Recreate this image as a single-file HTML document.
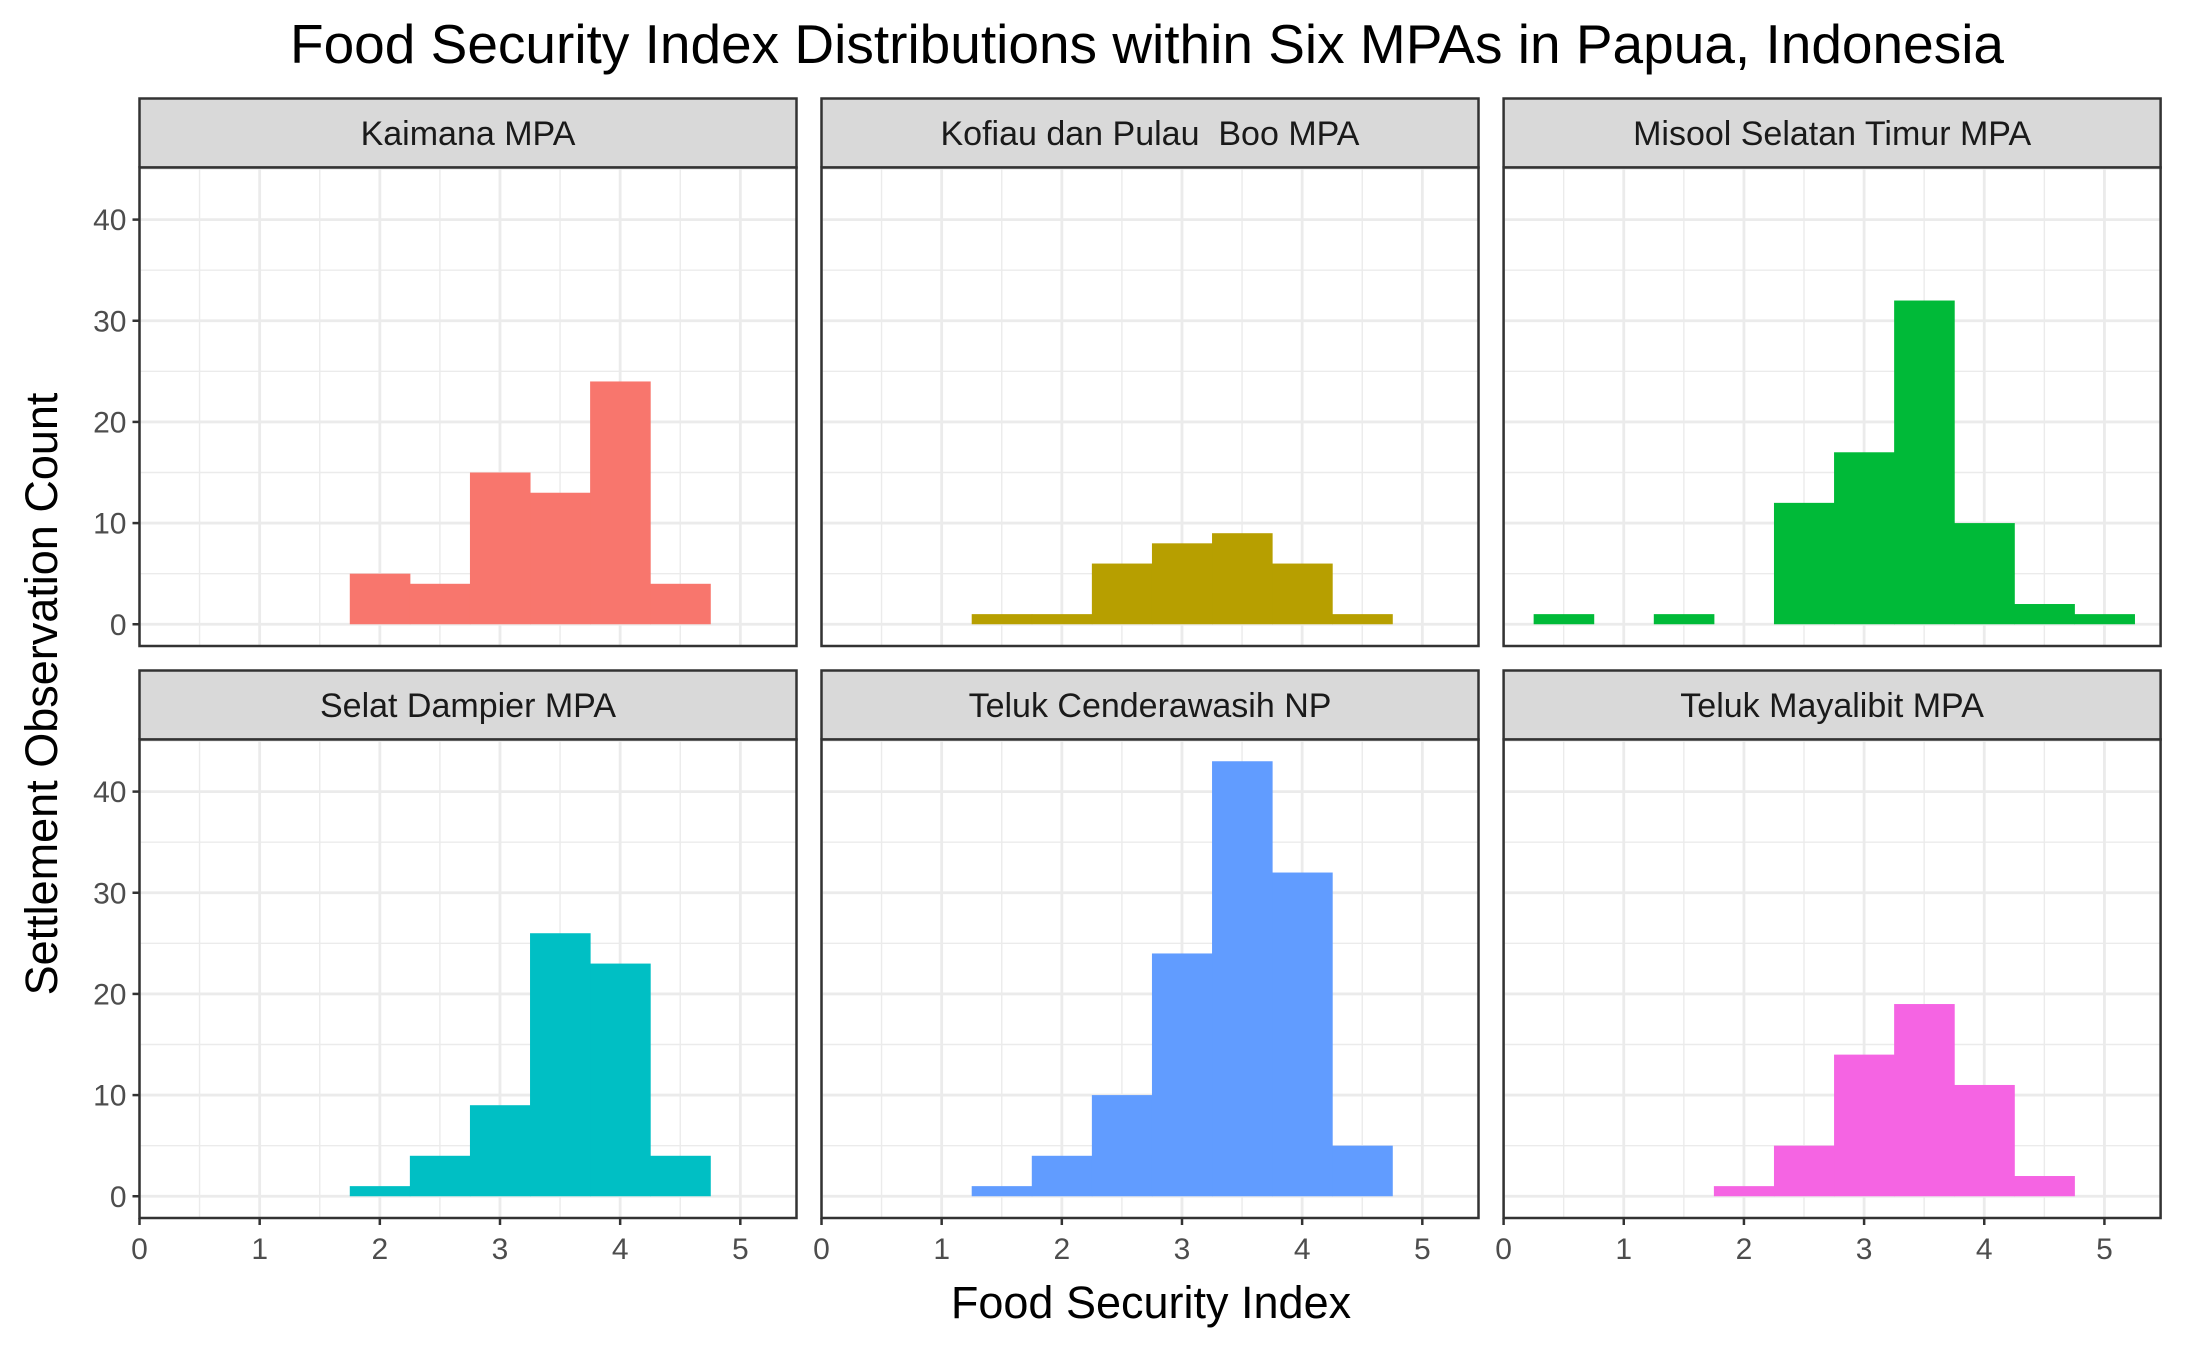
<!DOCTYPE html>
<html><head><meta charset="utf-8"><style>
html,body{margin:0;padding:0;background:#fff;}
svg{display:block;font-family:"Liberation Sans",Arial,sans-serif;}
</style></head><body>
<svg id="chart" width="2187" height="1351" viewBox="0 0 2187 1351" xmlns="http://www.w3.org/2000/svg">
<text x="1147" y="63" font-size="55" text-anchor="middle" fill="#000">Food Security Index Distributions within Six MPAs in Papua, Indonesia</text>
<text x="1151" y="1318" font-size="45" text-anchor="middle" fill="#000">Food Security Index</text>
<text transform="translate(57,694) rotate(-90)" font-size="45" text-anchor="middle" fill="#000">Settlement Observation Count</text>
<g id="panels"></g>
</svg>
<script>
const panelNames = ["Kaimana MPA","Kofiau dan Pulau  Boo MPA","Misool Selatan Timur MPA","Selat Dampier MPA","Teluk Cenderawasih NP","Teluk Mayalibit MPA"];
const binCenters = [0.5,1.0,1.5,2.0,2.5,3.0,3.5,4.0,4.5,5.0];
const kaimanaCounts = [0,0,0,5,4,15,13,24,4,0];
const kofiauCounts = [0,0,1,1,6,8,9,6,1,0];
const misoolCounts = [1,0,1,0,12,17,32,10,2,1];
const dampierCounts = [0,0,0,1,4,9,26,23,4,0];
const cenderawasihCounts = [0,0,1,4,10,24,43,32,5,0];
const mayalibitCounts = [0,0,0,1,5,14,19,11,2,0];
const seriesCounts = [kaimanaCounts,kofiauCounts,misoolCounts,dampierCounts,cenderawasihCounts,mayalibitCounts];
const seriesColors = ["#F8766D","#B79F00","#00BA38","#00BFC4","#619CFF","#F564E3"];
const xTicks = [0,1,2,3,4,5];
const yTicks = [0,10,20,30,40];
const binWidth = 0.5;

const NS="http://www.w3.org/2000/svg";
const root=document.getElementById('panels');
function mk(tag,attrs,parent){const e=document.createElementNS(NS,tag);for(const k in attrs)e.setAttribute(k,attrs[k]);(parent||root).appendChild(e);return e;}
const colsX=[139.5,821.5,1503.6], pw=657;
const rows=[{st:98.5,sb:167.5,pb:646},{st:670.5,sb:739.5,pb:1218}];
const xMin=0,xMax=5.4675,yMin=-2.15,yMax=45.15;
for(let i=0;i<6;i++){
  const c=i%3,r=Math.floor(i/3);
  const L=colsX[c],R=L+pw,T=rows[r].sb,B=rows[r].pb;
  const sx=v=>L+(v-xMin)/(xMax-xMin)*(R-L);
  const sy=v=>B-(v-yMin)/(yMax-yMin)*(B-T);
  const g=mk('g',{});
  
  
  const strip=mk('rect',{x:L,y:rows[r].st,width:pw,height:rows[r].sb-rows[r].st,fill:'#D9D9D9',stroke:'#333','stroke-width':2.5},g);
  
  
  const st=mk('text',{x:(L+R)/2,y:(rows[r].st+rows[r].sb)/2+12,'font-size':34,'text-anchor':'middle',fill:'#1A1A1A'},g);
  
  
  st.setAttribute('xml:space','preserve');
  st.style.whiteSpace='pre';
  st.textContent=panelNames[i];
  for(let v=0.5;v<=xMax;v+=1){const l=mk('line',{x1:sx(v),x2:sx(v),y1:T,y2:B,stroke:'#EBEBEB','stroke-width':1.4},g);}
  for(let v=5;v<=yMax;v+=10){const l=mk('line',{x1:L,x2:R,y1:sy(v),y2:sy(v),stroke:'#EBEBEB','stroke-width':1.4},g);}
  for(const v of xTicks){const l=mk('line',{x1:sx(v),x2:sx(v),y1:T,y2:B,stroke:'#EBEBEB','stroke-width':2.8},g);}
  for(const v of yTicks){const l=mk('line',{x1:L,x2:R,y1:sy(v),y2:sy(v),stroke:'#EBEBEB','stroke-width':2.8},g);}
  const counts=seriesCounts[i];
  counts.forEach((n,k)=>{ if(n<=0) return;
    const x0=binCenters[k]-binWidth/2,x1=binCenters[k]+binWidth/2;
    const b=mk('rect',{x:sx(x0),y:sy(n),width:sx(x1)-sx(x0)+0.5,height:sy(0)-sy(n),fill:seriesColors[i]},g);
    
    
  });
  const fr=mk('rect',{x:L,y:T,width:pw,height:B-T,fill:'none',stroke:'#333','stroke-width':2.5},g);
  
  
  if(c===0){
    for(const v of yTicks){
      mk('line',{x1:L-7,x2:L,y1:sy(v),y2:sy(v),stroke:'#333','stroke-width':2.5},g);
      const t=mk('text',{x:L-13,y:sy(v)+10.5,'font-size':30,'text-anchor':'end',fill:'#4D4D4D'},g);
      
      
      t.textContent=v;
    }
  }
  if(r===1){
    for(const v of xTicks){
      mk('line',{x1:sx(v),x2:sx(v),y1:B,y2:B+7,stroke:'#333','stroke-width':2.5},g);
      const t=mk('text',{x:sx(v),y:B+41,'font-size':30,'text-anchor':'middle',fill:'#4D4D4D'},g);
      
      
      t.textContent=v;
    }
  }
}
</script>
</body></html>
